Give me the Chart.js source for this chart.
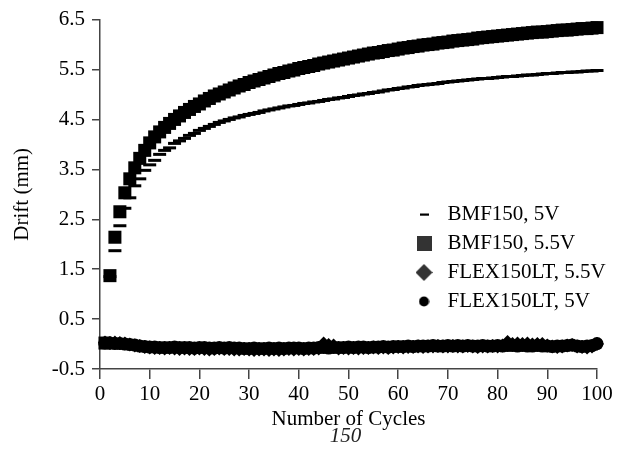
<!DOCTYPE html>
<html><head><meta charset="utf-8">
<script src="https://cdn.jsdelivr.net/npm/chart.js@4.4.1/dist/chart.umd.min.js"></script>
<style>html,body{margin:0;padding:0;background:#fff}#wrap{width:620px;height:462px}</style>
</head><body><div id="wrap"><canvas id="c" width="620" height="462"></canvas></div>
<script>
const cycles = [1,2,3,4,5,6,7,8,9,10,11,12,13,14,15,16,17,18,19,20,
  21,22,23,24,25,26,27,28,29,30,31,32,33,34,35,36,37,38,39,40,
  41,42,43,44,45,46,47,48,49,50,51,52,53,54,55,56,57,58,59,60,
  61,62,63,64,65,66,67,68,69,70,71,72,73,74,75,76,77,78,79,80,
  81,82,83,84,85,86,87,88,89,90,91,92,93,94,95,96,97,98,99,100];

const seriesNames = ['BMF150, 5V', 'BMF150, 5.5V', 'FLEX150LT, 5.5V', 'FLEX150LT, 5V'];
const subtitleText = '150';

const bmf150_5V = [0.00,1.35,1.87,2.37,2.72,2.93,3.17,3.31,3.48,3.59,
  3.68,3.80,3.88,3.93,4.02,4.07,4.12,4.18,4.22,4.28,
  4.32,4.36,4.40,4.44,4.47,4.50,4.53,4.55,4.58,4.60,
  4.62,4.64,4.67,4.69,4.71,4.73,4.75,4.77,4.78,4.80,
  4.82,4.83,4.85,4.86,4.88,4.90,4.91,4.93,4.94,4.96,
  4.98,4.99,5.01,5.02,5.04,5.05,5.07,5.09,5.10,5.12,
  5.13,5.15,5.16,5.18,5.19,5.20,5.21,5.22,5.24,5.25,
  5.26,5.27,5.28,5.29,5.30,5.31,5.32,5.32,5.33,5.34,
  5.35,5.36,5.36,5.37,5.38,5.39,5.39,5.40,5.41,5.42,
  5.42,5.43,5.44,5.44,5.45,5.45,5.46,5.47,5.47,5.48];

const bmf150_55V = [0.02,1.37,2.14,2.65,3.03,3.31,3.53,3.72,3.88,4.03,
  4.15,4.25,4.34,4.42,4.50,4.57,4.64,4.70,4.76,4.81,
  4.87,4.92,4.97,5.01,5.05,5.09,5.13,5.17,5.20,5.24,
  5.27,5.30,5.33,5.36,5.39,5.42,5.44,5.47,5.49,5.52,
  5.54,5.56,5.58,5.61,5.63,5.65,5.67,5.69,5.71,5.73,
  5.75,5.77,5.79,5.81,5.83,5.84,5.86,5.88,5.89,5.91,
  5.93,5.94,5.96,5.97,5.99,6.00,6.01,6.03,6.04,6.05,
  6.07,6.08,6.09,6.10,6.11,6.13,6.14,6.15,6.16,6.17,
  6.18,6.19,6.20,6.21,6.22,6.23,6.24,6.25,6.25,6.26,
  6.27,6.28,6.29,6.29,6.30,6.31,6.32,6.32,6.33,6.34];

const flex150lt_55V = [0.03,0.02,0.03,0.02,0.01,-0.01,-0.03,-0.04,-0.06,-0.07,
  -0.08,-0.08,-0.09,-0.08,-0.09,-0.10,-0.09,-0.10,-0.10,-0.09,
  -0.10,-0.11,-0.10,-0.09,-0.10,-0.10,-0.11,-0.11,-0.10,-0.11,
  -0.12,-0.11,-0.11,-0.12,-0.11,-0.12,-0.11,-0.10,-0.11,-0.10,
  -0.11,-0.10,-0.10,-0.09,0.01,-0.02,-0.03,-0.09,-0.08,-0.09,
  -0.08,-0.09,-0.08,-0.08,-0.07,-0.08,-0.07,-0.08,-0.07,-0.06,
  -0.07,-0.06,-0.06,-0.05,-0.06,-0.05,-0.05,-0.04,-0.05,-0.05,
  -0.04,-0.05,-0.05,-0.04,-0.05,-0.06,-0.05,-0.05,-0.04,-0.05,
  -0.03,0.04,0.00,0.01,0.00,0.01,-0.01,0.00,0.00,-0.03,
  -0.05,-0.06,-0.05,-0.03,-0.02,-0.05,-0.06,-0.07,-0.05,0.00];

const flex150lt_5V = [0.02,0.02,0.01,0.01,0.00,-0.01,-0.02,-0.04,-0.05,-0.06,
  -0.06,-0.07,-0.07,-0.07,-0.06,-0.07,-0.07,-0.07,-0.08,-0.07,
  -0.07,-0.08,-0.08,-0.07,-0.08,-0.07,-0.08,-0.08,-0.09,-0.09,
  -0.08,-0.09,-0.09,-0.08,-0.09,-0.08,-0.09,-0.08,-0.08,-0.08,
  -0.09,-0.08,-0.08,-0.07,-0.07,-0.08,-0.07,-0.07,-0.07,-0.06,
  -0.07,-0.06,-0.06,-0.07,-0.06,-0.06,-0.05,-0.06,-0.05,-0.05,
  -0.05,-0.04,-0.05,-0.04,-0.04,-0.04,-0.03,-0.04,-0.04,-0.03,
  -0.04,-0.03,-0.04,-0.03,-0.04,-0.04,-0.03,-0.04,-0.04,-0.03,
  -0.04,-0.03,-0.03,-0.04,-0.03,-0.04,-0.04,-0.03,-0.04,-0.04,
  -0.05,-0.04,-0.04,-0.03,-0.02,-0.04,-0.05,-0.04,-0.03,0.01];

const xTicks = [0,10,20,30,40,50,60,70,80,90,100];
const yTicks = [-0.5,0.5,1.5,2.5,3.5,4.5,5.5,6.5];

const FONT = 'Liberation Serif';
const FS = 21;
const pts = vals => vals.map((v, i) => ({x: cycles[i], y: v}));

function mark(w, h, draw) {
  const c = document.createElement('canvas');
  c.width = w; c.height = h;
  draw(c.getContext('2d'));
  return c;
}
const legendMarks = [
  mark(9, 3, g => { g.fillStyle = '#000'; g.fillRect(0, 0.5, 9, 2.2); }),
  mark(15, 15, g => { g.fillStyle = '#333'; g.fillRect(0, 0, 15, 15); }),
  mark(17, 17, g => { g.fillStyle = '#333'; g.beginPath(); g.moveTo(0, 8.5); g.lineTo(8.5, 0); g.lineTo(17, 8.5); g.lineTo(8.5, 17); g.closePath(); g.fill(); }),
  mark(11, 11, g => { g.fillStyle = '#000'; g.beginPath(); g.arc(5.5, 5.5, 5, 0, Math.PI * 2); g.fill(); })
];

const boxMover = {
  id: 'boxMover',
  afterLayout(chart) {
    const lg = chart.legend;
    if (lg) {
      const w = lg.width, h = lg.height;
      lg.left = 403; lg.right = 403 + w;
      lg.top = 196; lg.bottom = 196 + h;
    }
    chart.boxes.forEach(b => {
      if (b !== lg && b.options && b.options.text === subtitleText && b.position === 'bottom') {
        b.left = 94; b.right = 597; b.width = 503;
      }
    });
  }
};

new Chart(document.getElementById('c'), {
  type: 'scatter',
  data: {
    datasets: [
      {label: seriesNames[0], data: pts(bmf150_5V), pointStyle: 'line', pointRadius: 6.5, borderWidth: 3, borderColor: '#000', backgroundColor: '#000', clip: false},
      {label: seriesNames[1], data: pts(bmf150_55V), pointStyle: 'rect', pointRadius: 9.2, borderWidth: 0, borderColor: '#000', backgroundColor: '#000', clip: false},
      {label: seriesNames[2], data: pts(flex150lt_55V), pointStyle: 'rectRot', pointRadius: 7, borderWidth: 0, borderColor: '#000', backgroundColor: '#000', clip: false},
      {label: seriesNames[3], data: pts(flex150lt_5V), pointStyle: 'circle', pointRadius: 6.5, borderWidth: 0, borderColor: '#000', backgroundColor: '#000', clip: false}
    ]
  },
  options: {
    responsive: false,
    animation: false,
    events: [],
    layout: {padding: {top: 17, right: 23, bottom: 15, left: 0}},
    scales: {
      x: {
        type: 'linear', min: 0, max: 100,
        afterBuildTicks: s => { s.ticks = xTicks.map(v => ({value: v})); },
        afterFit: s => { s.height = 57; },
        grid: {drawOnChartArea: false, drawTicks: true, tickLength: 10, color: '#444', lineWidth: 1.5},
        border: {display: true, color: '#444', width: 1.5},
        ticks: {font: {family: FONT, size: FS}, color: '#000', padding: 3, maxRotation: 0, autoSkip: false},
        title: {display: true, text: 'Number of Cycles', color: '#000', font: {family: FONT, size: FS, lineHeight: 1}, padding: {top: 0, bottom: -4}}
      },
      y: {
        type: 'linear', min: -0.5, max: 6.5,
        afterBuildTicks: s => { s.ticks = yTicks.map(v => ({value: v})); },
        afterFit: s => { s.width = 100; },
        grid: {drawOnChartArea: false, drawTicks: true, tickLength: 8, color: '#444', lineWidth: 1.5},
        border: {display: true, color: '#444', width: 1.5},
        ticks: {font: {family: FONT, size: FS}, color: '#000', padding: 7, callback: v => Number(v).toFixed(1)},
        title: {display: true, text: 'Drift (mm)', color: '#000', font: {family: FONT, size: FS, lineHeight: 1}, padding: {top: 12, bottom: 0}}
      }
    },
    plugins: {
      tooltip: {enabled: false},
      subtitle: {display: true, position: 'bottom', text: subtitleText, color: '#222', font: {family: FONT, size: FS, style: 'italic', lineHeight: 1}, padding: 0},
      legend: {
        display: true, position: 'chartArea', align: 'start',
        labels: {
          font: {family: FONT, size: FS}, color: '#000', usePointStyle: true, pointStyleWidth: 26, boxHeight: 14, padding: 8,
          generateLabels: chart => chart.data.datasets.map((ds, i) => ({
            text: ds.label, pointStyle: legendMarks[i], fillStyle: '#000', strokeStyle: '#000',
            lineWidth: 0, hidden: false, datasetIndex: i, fontColor: '#000'
          }))
        }
      }
    }
  },
  plugins: [boxMover]
});
</script>
</body></html>
